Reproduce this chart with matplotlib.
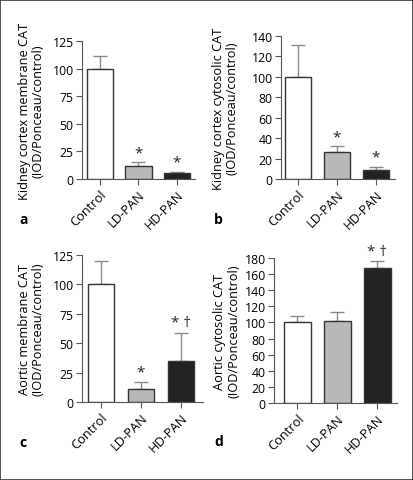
import numpy as np
import matplotlib
matplotlib.use("Agg")
import matplotlib.pyplot as plt
from matplotlib.patches import Rectangle

plt.rcParams['font.family'] = ['Open Sans', 'DejaVu Sans']

groups = ["Control", "LD-PAN", "HD-PAN"]
bar_colors = ["white", "#b9b9b9", "#222222"]

# panel values (mean, upper SEM)
a_mean = [100, 12, 5]
a_err = [11, 3, 1.5]
b_mean = [100, 26, 9]
b_err = [31, 6, 3]
c_mean = [100, 11, 35]
c_err = [20, 6, 24]
d_mean = [100, 102, 167]
d_err = [8, 11, 9]

a_marks = ["", "*", "*"]
b_marks = ["", "*", "*"]
c_marks = ["", "*", "* \u2020"]
d_marks = ["", "", "* \u2020"]

a_ylabel = "Kidney cortex membrane CAT\n(IOD/Ponceau/control)"
b_ylabel = "Kidney cortex cytosolic CAT\n(IOD/Ponceau/control)"
c_ylabel = "Aortic membrane CAT\n(IOD/Ponceau/control)"
d_ylabel = "Aortic cytosolic CAT\n(IOD/Ponceau/control)"

W, H = 414, 481
fig = plt.figure(figsize=(W / 100, H / 100), dpi=100)

AX_COLOR = "#555555"


def px_axes(x0, x1, ytop, ybot):
    return fig.add_axes([x0 / W, 1 - ybot / H, (x1 - x0) / W, (ybot - ytop) / H])


def panel(ax, means, errs, marks, ylabel, ymax, step, xlim, width, letter, letter_xy, ylab_px):
    x = np.arange(len(groups))
    ax.bar(x, means, width=width, color=bar_colors, edgecolor="#333333", linewidth=1.0, zorder=2)
    ax.errorbar(x, means, yerr=[np.zeros(3), errs], fmt="none", ecolor="#8a8a8a",
                elinewidth=1.0, capsize=5, capthick=1.0, zorder=1)
    for xi, m, e, t in zip(x, means, errs, marks):
        if t:
            ax.text(xi, m + e + ymax * 0.015, t, ha="center", va="bottom", fontsize=11,
                    color="#222222")
    ax.set_xlim(*xlim)
    ax.set_ylim(0, ymax)
    ax.set_yticks(np.arange(0, ymax + 1, step))
    ax.set_xticks(x)
    ax.set_xticklabels(groups, rotation=45, ha="right", rotation_mode="anchor", fontsize=9.3)
    ax.tick_params(axis="y", labelsize=8.8, length=4, color=AX_COLOR, width=0.8, pad=2)
    ax.tick_params(axis="x", length=4, color=AX_COLOR, width=0.8, pad=2)
    for s in ["top", "right"]:
        ax.spines[s].set_visible(False)
    for s in ["left", "bottom"]:
        ax.spines[s].set_color(AX_COLOR)
        ax.spines[s].set_linewidth(0.8)
    ax.set_ylabel(ylabel, fontsize=9.2, linespacing=1.05)
    # label position given in figure pixels (right edge of rotated text)
    bbox = ax.get_position()
    ax.yaxis.set_label_coords((ylab_px / W - bbox.x0) / bbox.width, 0.5)
    fig.text(letter_xy[0] / W, 1 - letter_xy[1] / H, letter, fontsize=10, fontweight="bold",
             ha="left", va="center")


ax_a = px_axes(82, 195, 42, 180)
panel(ax_a, a_mean, a_err, a_marks, a_ylabel, 125, 25, (-0.47, 2.47), 0.68, "a", (19, 220), 45)

ax_b = px_axes(281, 395, 37, 180)
panel(ax_b, b_mean, b_err, b_marks, b_ylabel, 140, 20, (-0.44, 2.49), 0.67, "b", (214, 220), 239)

ax_c = px_axes(82, 203, 256, 403)
panel(ax_c, c_mean, c_err, c_marks, c_ylabel, 125, 25, (-0.475, 2.55), 0.65, "c", (19, 443), 45)

ax_d = px_axes(274, 397, 259, 404)
panel(ax_d, d_mean, d_err, d_marks, d_ylabel, 180, 20, (-0.59, 2.5), 0.68, "d", (214, 442), 240)

fig.patches.append(Rectangle((0.5 / W, 0.5 / H), 1 - 1.5 / W, 1 - 1.5 / H, transform=fig.transFigure,
                             fill=False, edgecolor="#333333", linewidth=1.2))

fig.savefig("out.png", dpi=100)
